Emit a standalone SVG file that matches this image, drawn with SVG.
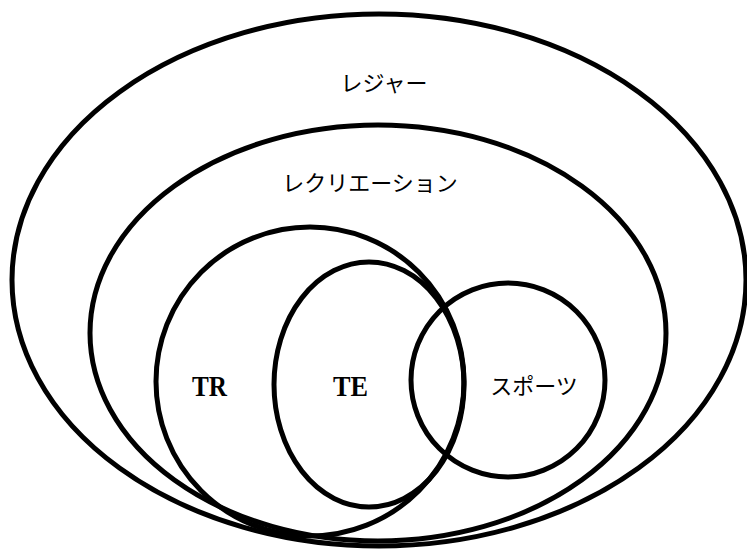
<svg xmlns="http://www.w3.org/2000/svg" width="747" height="549" viewBox="0 0 747 549">
<style>
.s{fill:none;stroke:#000;stroke-width:5}
.j{font-family:"Noto Sans CJK JP","Noto Sans CJK SC",sans-serif;font-size:22px;fill:#000;text-anchor:middle}
.l{font-family:"Liberation Serif",serif;font-weight:bold;font-size:29px;fill:#000;text-anchor:middle}
</style>
<rect width="747" height="549" fill="#fff"/>
<g id="leisure"><ellipse class="s" cx="379" cy="280" rx="367" ry="266"/><text class="j" x="384" y="91">レジャー</text></g>
<g id="recreation"><ellipse class="s" cx="378" cy="333" rx="288" ry="208"/><text class="j" x="370" y="191" font-size="23">レクリエーション</text></g>
<g id="TR"><ellipse class="s" cx="310" cy="381.5" rx="154" ry="154.5"/><text class="l" x="209.5" y="396" textLength="35" lengthAdjust="spacingAndGlyphs">TR</text></g>
<g id="TE"><ellipse class="s" cx="369" cy="384.5" rx="95" ry="122.5"/><text class="l" x="350.5" y="396" textLength="35" lengthAdjust="spacingAndGlyphs">TE</text></g>
<g id="sports"><ellipse class="s" cx="508" cy="380" rx="97" ry="97"/><text class="j" x="534" y="394">スポーツ</text></g>
<g id="connectors"></g>
</svg>
